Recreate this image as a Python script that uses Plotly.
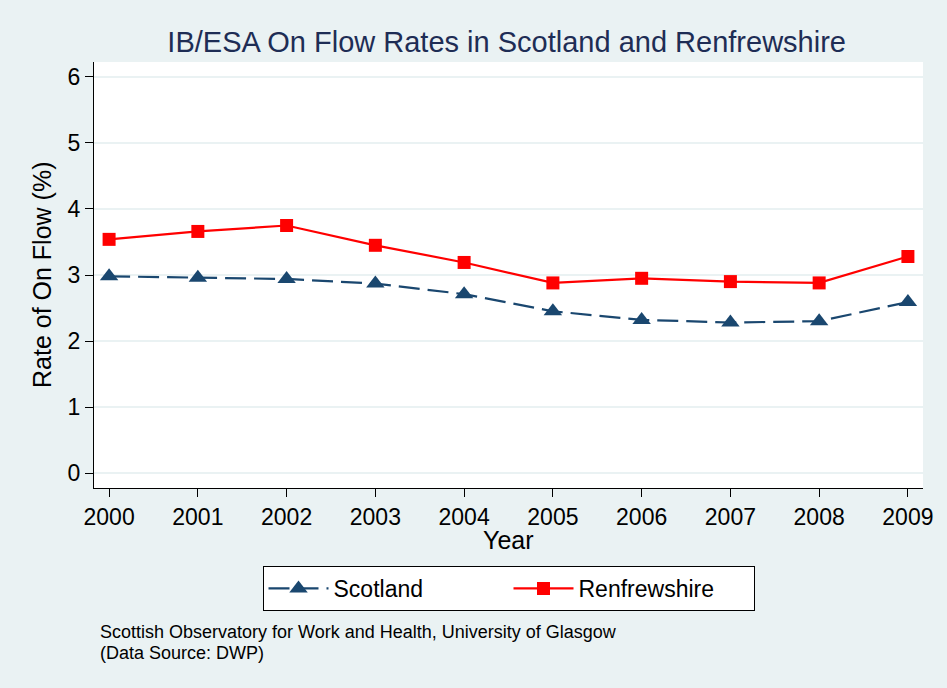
import plotly.graph_objects as go

years = [2000, 2001, 2002, 2003, 2004, 2005, 2006, 2007, 2008, 2009]
scotland = [2.98, 2.96, 2.94, 2.87, 2.71, 2.45, 2.32, 2.28, 2.30, 2.59]
renfrewshire = [3.54, 3.66, 3.75, 3.45, 3.19, 2.88, 2.95, 2.90, 2.88, 3.28]
y_ticks = [0, 1, 2, 3, 4, 5, 6]

BG = "#EAF2F3"
FONT = "Liberation Sans, Arial, sans-serif"
PLOT_H = 426

def py(pix):
    return (488 - pix) / PLOT_H

fig = go.Figure()
fig.add_trace(go.Scatter(
    x=years, y=scotland, name="Scotland", mode="lines+markers",
    line=dict(color="#1a476f", width=2.2, dash="21px,8px"),
    marker=dict(symbol="triangle-up", size=16, color="#1a476f"),
))
fig.add_trace(go.Scatter(
    x=years, y=renfrewshire, name="Renfrewshire", mode="lines+markers",
    line=dict(color="#ff0000", width=2.2),
    marker=dict(symbol="square", size=13, color="#ff0000"),
))

fig.update_layout(
    width=947, height=688,
    paper_bgcolor=BG, plot_bgcolor="white",
    margin=dict(l=94, r=24, t=62, b=200),
    font=dict(family=FONT, color="black", size=22),
    title=dict(text="IB/ESA On Flow Rates in Scotland and Renfrewshire",
               x=0.535, xanchor="center", y=1 - 42 / 688, yanchor="middle",
               font=dict(family="Liberation Sans Narrow, Liberation Sans, Arial", size=29, color="#1e2d55")),
    showlegend=True,
    legend=dict(orientation="h", x=0.5, xanchor="center", y=py(566), yanchor="top",
                bgcolor="white", bordercolor="black", borderwidth=1,
                font=dict(size=23, family=FONT), itemwidth=60, entrywidth=170,
                traceorder="normal"),
    xaxis=dict(range=[1999.83, 2009.17], tickmode="array", tickvals=years,
               ticktext=[str(y) for y in years], showgrid=False, zeroline=False,
               showline=True, linecolor="black", linewidth=1.2,
               ticks="outside", ticklen=8, tickcolor="black", tickwidth=1.2,
               tickfont=dict(size=23)),
    yaxis=dict(range=[-0.227, 6.227], tickmode="array", tickvals=y_ticks,
               showgrid=True, gridcolor=BG, gridwidth=2, zeroline=False,
               showline=True, linecolor="black", linewidth=1.2,
               ticks="outside", ticklen=8, tickcolor="black", tickwidth=1.2,
               tickfont=dict(size=23)),
    annotations=[
        dict(text="Year", xref="paper", yref="paper", x=0.5, y=py(540),
             xanchor="center", yanchor="middle", showarrow=False, font=dict(size=25)),
        dict(text="Rate of On Flow (%)", xref="paper", yref="paper", x=(42 - 94) / 829, y=0.5,
             xanchor="center", yanchor="middle", textangle=-90, showarrow=False, font=dict(size=25)),
        dict(text="Scottish Observatory for Work and Health, University of Glasgow",
             xref="paper", yref="paper", x=(98 - 94) / 829, y=py(632), xanchor="left", yanchor="middle",
             align="left", showarrow=False, font=dict(size=18)),
        dict(text="(Data Source: DWP)",
             xref="paper", yref="paper", x=(98 - 94) / 829, y=py(653), xanchor="left", yanchor="middle",
             align="left", showarrow=False, font=dict(size=18)),
    ],
)

fig.write_html("out.html", config={"displayModeBar": False},
               post_script="document.body.style.margin='0';document.body.style.padding='0';")
